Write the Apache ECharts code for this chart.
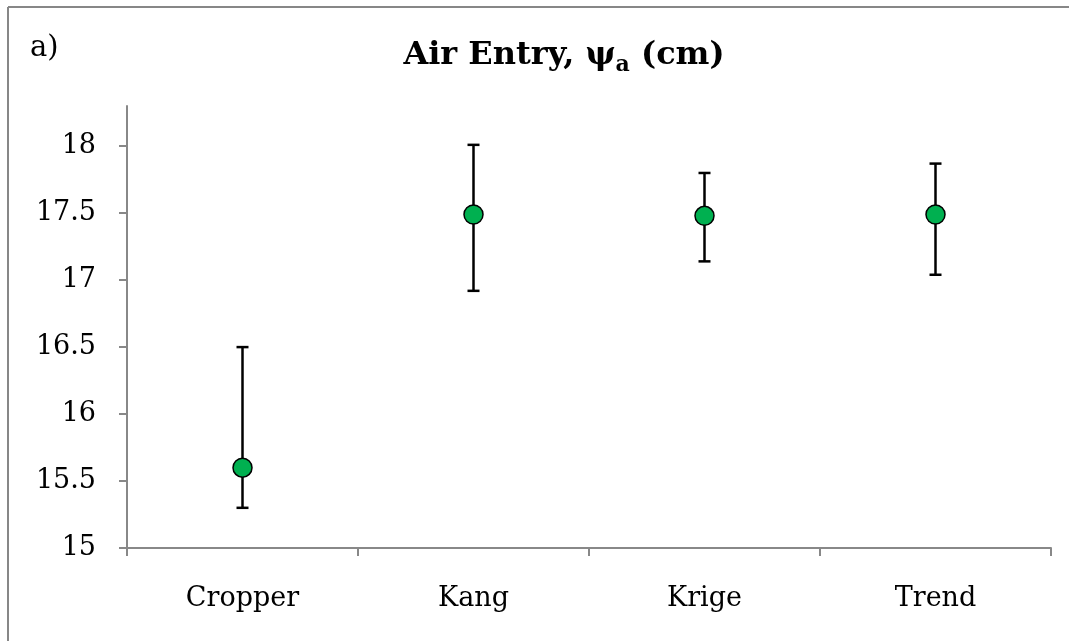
<!DOCTYPE html>
<html>
<head>
<meta charset="utf-8">
<script src="https://cdn.jsdelivr.net/npm/echarts@6/dist/echarts.min.js"></script>
<style>
html,body{margin:0;padding:0;background:#fff;}
#chart{width:1069px;height:641px;}
</style>
</head>
<body>
<div id="chart"></div>
<script>
const categories = ['Cropper', 'Kang', 'Krige', 'Trend'];
const values = [15.6, 17.49, 17.48, 17.49];
const upper = [16.5, 18.01, 17.8, 17.87];
const lower = [15.3, 16.92, 17.14, 17.04];
const yTicks = [15, 15.5, 16, 16.5, 17, 17.5, 18];

const FONT = 'DejaVu Serif';
const chart = echarts.init(document.getElementById('chart'));

const errData = categories.map((c, i) => [i, lower[i], upper[i]]);

chart.setOption({
  animation: false,
  backgroundColor: '#fff',
  graphic: [
    { type: 'line', shape: { x1: 8, y1: 7, x2: 1069, y2: 7 }, style: { stroke: '#878787', lineWidth: 2 } },
    { type: 'line', shape: { x1: 8, y1: 7, x2: 8, y2: 641 }, style: { stroke: '#878787', lineWidth: 2 } },
    { type: 'text', left: 30, top: 34, style: { text: 'a)', fontSize: 29, fontFamily: FONT, fill: '#000' } }
  ],
  title: {
    text: '{t|Air Entry, ψ}{s|a}{t| (cm)}',
    left: 559,
    top: 31,
    textAlign: 'center',
    textStyle: {
      rich: {
        t: { fontFamily: FONT, fontWeight: 'bold', fontSize: 32, color: '#000' },
        s: { fontFamily: FONT, fontWeight: 'bold', fontSize: 22, color: '#000', verticalAlign: 'bottom', padding: [18, 0, 0, 0] }
      }
    }
  },
  grid: { left: 127, right: 18, top: 106, bottom: 93 },
  xAxis: {
    type: 'category',
    data: categories,
    boundaryGap: true,
    axisLine: { lineStyle: { color: '#888', width: 2 } },
    axisTick: { show: true, length: 8, lineStyle: { color: '#888', width: 2 } },
    axisLabel: { fontFamily: FONT, fontSize: 27, color: '#000', margin: 37 },
    splitLine: { show: false }
  },
  yAxis: {
    type: 'value',
    min: 15,
    max: 18.3,
    interval: 0.5,
    axisLine: { show: true, lineStyle: { color: '#888', width: 2 } },
    axisTick: { show: true, length: 8, lineStyle: { color: '#888', width: 2 }, customValues: yTicks },
    axisLabel: { fontFamily: FONT, fontSize: 27, color: '#000', margin: 31, customValues: yTicks },
    splitLine: { show: false }
  },
  series: [
    {
      type: 'custom',
      data: errData,
      z: 2,
      renderItem: function (params, api) {
        const x = api.value(0);
        const lo = api.coord([x, api.value(1)]);
        const hi = api.coord([x, api.value(2)]);
        const hw = 6;
        const st = { stroke: '#000', lineWidth: 2.5 };
        return {
          type: 'group',
          children: [
            { type: 'line', shape: { x1: lo[0], y1: lo[1], x2: hi[0], y2: hi[1] }, style: st },
            { type: 'line', shape: { x1: hi[0] - hw, y1: hi[1], x2: hi[0] + hw, y2: hi[1] }, style: st },
            { type: 'line', shape: { x1: lo[0] - hw, y1: lo[1], x2: lo[0] + hw, y2: lo[1] }, style: st }
          ]
        };
      }
    },
    {
      type: 'scatter',
      data: values,
      z: 5,
      symbol: 'circle',
      symbolSize: 19,
      itemStyle: { color: '#00B050', borderColor: '#000', borderWidth: 1.5, opacity: 1 }
    }
  ]
});
</script>
</body>
</html>
